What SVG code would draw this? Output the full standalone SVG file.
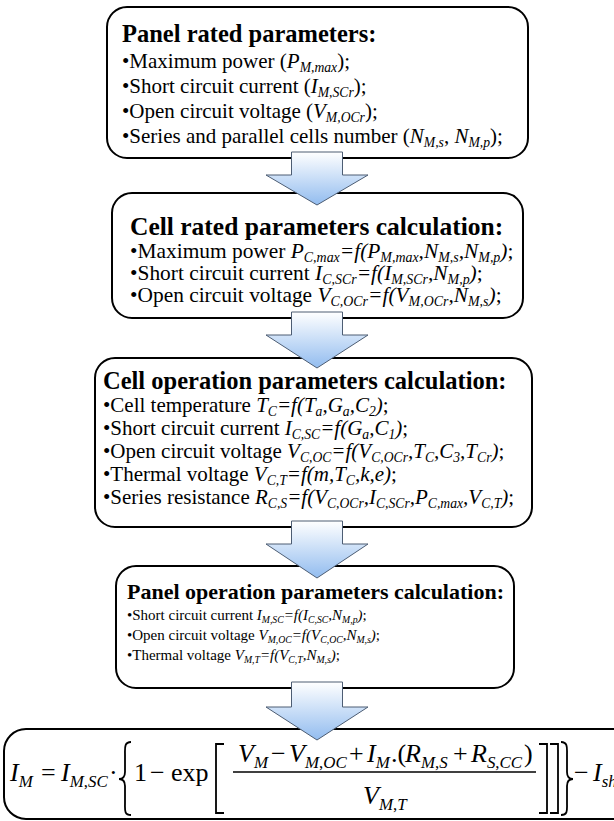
<svg xmlns="http://www.w3.org/2000/svg" width="614" height="821" viewBox="0 0 614 821">
<defs>
<linearGradient id="ag" x1="0" y1="0" x2="0" y2="1">
<stop offset="0" stop-color="#ffffff"/>
<stop offset="1" stop-color="#92bcef"/>
</linearGradient>
<style>
.box{fill:#fff;stroke:#000;stroke-width:2}
.t{font-family:"Liberation Serif","Times New Roman",serif;fill:#000}
.h{font-weight:bold}
.i{font-style:italic}
.s{font-size:65%}
.arrow{fill:url(#ag);stroke:#4d5d73;stroke-width:1}
.dl{fill:none;stroke:#000;stroke-width:1.8;stroke-linejoin:miter}
.fl{stroke:#000;stroke-width:1.5}
</style>
</defs>
<rect width="614" height="821" fill="#fff"/>

<g id="panel-rated">
<rect class="box" x="107" y="7" width="421" height="151" rx="20"/>
<text class="t h" x="122" y="42" font-size="24.5">Panel rated parameters:</text>
<g class="t" font-size="21">
<text x="122" y="68">•Maximum power (<tspan class="i">P</tspan><tspan class="i s" dy="4">M,max</tspan><tspan dy="-4">);</tspan></text>
<text x="122" y="93">•Short circuit current (<tspan class="i">I</tspan><tspan class="i s" dy="4">M,SCr</tspan><tspan dy="-4">);</tspan></text>
<text x="122" y="118">•Open circuit voltage (<tspan class="i">V</tspan><tspan class="i s" dy="4">M,OCr</tspan><tspan dy="-4">);</tspan></text>
<text x="122" y="143">•Series and parallel cells number (<tspan class="i">N</tspan><tspan class="i s" dy="4">M,s</tspan><tspan dy="-4">, </tspan><tspan class="i">N</tspan><tspan class="i s" dy="4">M,p</tspan><tspan dy="-4">);</tspan></text>
</g>
</g>

<g id="cell-rated">
<rect class="box" x="112" y="193" width="411" height="125" rx="20"/>
<text class="t h" x="130" y="235" font-size="25.5">Cell rated parameters calculation:</text>
<g class="t" font-size="21.4">
<text x="130" y="258">•Maximum power <tspan class="i">P</tspan><tspan class="i s" dy="4">C,max</tspan><tspan class="i" dy="-4">=f(P</tspan><tspan class="i s" dy="4">M,max</tspan><tspan class="i" dy="-4">,N</tspan><tspan class="i s" dy="4">M,s</tspan><tspan class="i" dy="-4">,N</tspan><tspan class="i s" dy="4">M,p</tspan><tspan class="i" dy="-4">)</tspan>;</text>
<text x="130" y="280">•Short circuit current <tspan class="i">I</tspan><tspan class="i s" dy="4">C,SCr</tspan><tspan class="i" dy="-4">=f(I</tspan><tspan class="i s" dy="4">M,SCr</tspan><tspan class="i" dy="-4">,N</tspan><tspan class="i s" dy="4">M,p</tspan><tspan class="i" dy="-4">)</tspan>;</text>
<text x="130" y="302">•Open circuit voltage <tspan class="i">V</tspan><tspan class="i s" dy="4">C,OCr</tspan><tspan class="i" dy="-4">=f(V</tspan><tspan class="i s" dy="4">M,OCr</tspan><tspan class="i" dy="-4">,N</tspan><tspan class="i s" dy="4">M,s</tspan><tspan class="i" dy="-4">)</tspan>;</text>
</g>
</g>

<g id="cell-operation">
<rect class="box" x="95" y="358" width="437" height="169" rx="20"/>
<text class="t h" x="103" y="389" font-size="24.5">Cell operation parameters calculation:</text>
<g class="t" font-size="21">
<text x="103" y="412">•Cell temperature <tspan class="i">T</tspan><tspan class="i s" dy="4">C</tspan><tspan class="i" dy="-4">=f(T</tspan><tspan class="i s" dy="4">a</tspan><tspan class="i" dy="-4">,G</tspan><tspan class="i s" dy="4">a</tspan><tspan class="i" dy="-4">,C</tspan><tspan class="i s" dy="4">2</tspan><tspan class="i" dy="-4">)</tspan>;</text>
<text x="103" y="435">•Short circuit current <tspan class="i">I</tspan><tspan class="i s" dy="4">C,SC</tspan><tspan class="i" dy="-4">=f(G</tspan><tspan class="i s" dy="4">a</tspan><tspan class="i" dy="-4">,C</tspan><tspan class="i s" dy="4">1</tspan><tspan class="i" dy="-4">)</tspan>;</text>
<text x="103" y="458">•Open circuit voltage <tspan class="i">V</tspan><tspan class="i s" dy="4">C,OC</tspan><tspan class="i" dy="-4">=f(V</tspan><tspan class="i s" dy="4">C,OCr</tspan><tspan class="i" dy="-4">,T</tspan><tspan class="i s" dy="4">C</tspan><tspan class="i" dy="-4">,C</tspan><tspan class="i s" dy="4">3</tspan><tspan class="i" dy="-4">,T</tspan><tspan class="i s" dy="4">Cr</tspan><tspan class="i" dy="-4">)</tspan>;</text>
<text x="103" y="481">•Thermal voltage <tspan class="i">V</tspan><tspan class="i s" dy="4">C,T</tspan><tspan class="i" dy="-4">=f(m,T</tspan><tspan class="i s" dy="4">C</tspan><tspan class="i" dy="-4">,k,e)</tspan>;</text>
<text x="103" y="504">•Series resistance <tspan class="i">R</tspan><tspan class="i s" dy="4">C,S</tspan><tspan class="i" dy="-4">=f(V</tspan><tspan class="i s" dy="4">C,OCr</tspan><tspan class="i" dy="-4">,I</tspan><tspan class="i s" dy="4">C,SCr</tspan><tspan class="i" dy="-4">,P</tspan><tspan class="i s" dy="4">C,max</tspan><tspan class="i" dy="-4">,V</tspan><tspan class="i s" dy="4">C,T</tspan><tspan class="i" dy="-4">)</tspan>;</text>
</g>
</g>

<g id="panel-operation">
<rect class="box" x="116" y="566" width="398" height="122" rx="20"/>
<text class="t h" x="127" y="599" font-size="22">Panel operation parameters calculation:</text>
<g class="t" font-size="15">
<text x="127" y="620">•Short circuit current <tspan class="i">I</tspan><tspan class="i s" dy="3">M,SC</tspan><tspan class="i" dy="-3">=f(I</tspan><tspan class="i s" dy="3">C,SC</tspan><tspan class="i" dy="-3">,N</tspan><tspan class="i s" dy="3">M,p</tspan><tspan class="i" dy="-3">)</tspan>;</text>
<text x="127" y="640">•Open circuit voltage <tspan class="i">V</tspan><tspan class="i s" dy="3">M,OC</tspan><tspan class="i" dy="-3">=f(V</tspan><tspan class="i s" dy="3">C,OC</tspan><tspan class="i" dy="-3">,N</tspan><tspan class="i s" dy="3">M,s</tspan><tspan class="i" dy="-3">)</tspan>;</text>
<text x="127" y="660">•Thermal voltage <tspan class="i">V</tspan><tspan class="i s" dy="3">M,T</tspan><tspan class="i" dy="-3">=f(V</tspan><tspan class="i s" dy="3">C,T</tspan><tspan class="i" dy="-3">,N</tspan><tspan class="i s" dy="3">M,s</tspan><tspan class="i" dy="-3">)</tspan>;</text>
</g>
</g>

<g id="equation">
<rect class="box" x="4" y="729" width="630" height="90" rx="22"/>
<g class="t" font-size="26">
<text x="10" y="781"><tspan class="i">I</tspan><tspan class="i s" dy="6">M</tspan></text>
<text x="41" y="781">=</text>
<text x="61" y="781"><tspan class="i">I</tspan><tspan class="s" dy="6"><tspan class="i">M</tspan>,<tspan class="i">SC</tspan></tspan></text>
<text x="109" y="781">·</text>
<text x="134" y="781">1</text>
<text x="150" y="781">−</text>
<text x="171" y="781">exp</text>
<text x="238" y="762"><tspan class="i">V</tspan><tspan class="i s" dy="6">M</tspan></text>
<text x="271" y="762">−</text>
<text x="289" y="762"><tspan class="i">V</tspan><tspan class="s" dy="6"><tspan class="i">M</tspan>,<tspan class="i">OC</tspan></tspan></text>
<text x="349" y="762">+</text>
<text x="367" y="762"><tspan class="i">I</tspan><tspan class="i s" dy="6">M</tspan></text>
<text x="391" y="762">.(</text>
<text x="405" y="762"><tspan class="i">R</tspan><tspan class="s" dy="6"><tspan class="i">M</tspan>,<tspan class="i">S</tspan></tspan></text>
<text x="453" y="762">+</text>
<text x="471" y="762"><tspan class="i">R</tspan><tspan class="s" dy="6"><tspan class="i">S</tspan>,<tspan class="i">CC</tspan></tspan></text>
<text x="524" y="762">)</text>
<text x="363" y="804"><tspan class="i">V</tspan><tspan class="s" dy="6"><tspan class="i">M</tspan>,<tspan class="i">T</tspan></tspan></text>
<text x="574" y="781">−</text>
<text x="593" y="781"><tspan class="i">I</tspan><tspan class="i s" dy="6">sh</tspan></text>
</g>
<line class="fl" x1="233" y1="772" x2="536" y2="772"/>
<path class="dl" d="M131,742 C124,742 125,748 125,755 L125,772 C125,777 123,779 119,779 C123,779 125,781 125,786 L125,803 C125,810 124,815 131,815"/>
<path class="dl" d="M224,744 L216,744 L216,813 L224,813"/>
<path class="dl" d="M539,744 L547,744 L547,813 L539,813"/>
<path class="dl" d="M550,744 L558,744 L558,813 L550,813"/>
<path class="dl" d="M561,742 C568,742 567,748 567,755 L567,772 C567,777 569,779 573,779 C569,779 567,781 567,786 L567,803 C567,810 568,815 561,815"/>
</g>

<g id="connectors">
<path class="arrow" d="M291.5,152 L342.5,152 L342.5,175 L368,175 L317,205 L266,175 L291.5,175 Z"/>
<path class="arrow" d="M291.5,312 L342.5,312 L342.5,335 L368,335 L317,368 L266,335 L291.5,335 Z"/>
<path class="arrow" d="M291.5,521 L342.5,521 L342.5,544 L368,544 L317,578 L266,544 L291.5,544 Z"/>
<path class="arrow" d="M291.5,682 L342.5,682 L342.5,707 L368,707 L317,740 L266,707 L291.5,707 Z"/>
</g>
</svg>
